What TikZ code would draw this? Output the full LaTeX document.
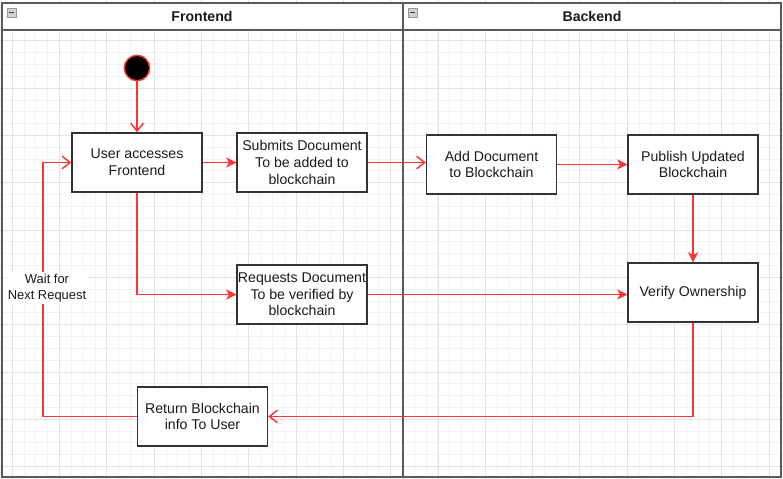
\documentclass[tikz,border=0pt]{standalone}
\usepackage{fontspec}
\setmainfont{Liberation Sans}
\usetikzlibrary{arrows.meta}

\definecolor{flowred}{HTML}{FF3333}
\definecolor{boxline}{HTML}{333333}
\definecolor{laneline}{HTML}{5A5A5A}
\definecolor{gridminor}{HTML}{F3F3F3}
\definecolor{gridmajor}{HTML}{E3E3E3}
\definecolor{txt}{HTML}{1A1A1A}

\tikzset{
  stepbox/.style={rectangle, draw=boxline, line width=1.1pt, fill=white,
    minimum width=97.5pt, minimum height=44.25pt, inner sep=0pt, align=center,
    text=txt, font=\fontsize{10.6}{12.5}\selectfont},
  flow/.style={draw=flowred, line width=1.1pt,
    -{Stealth[length=7.5pt, width=7.5pt, inset=2pt]}},
  openflow/.style={draw=flowred, line width=1.1pt,
    -{Straight Barb[length=6pt, width=9.5pt, line width=1.1pt]}},
  lanetitle/.style={font=\bfseries\fontsize{10.6}{12.5}\selectfont, text=txt},
  minusicon/.style={draw=gray!80, fill=gray!35, line width=0.5pt}
}

\begin{document}
\begin{tikzpicture}[x=0.75pt, y=-0.75pt]
  \useasboundingbox (0,0) rectangle (783,479);
  \fill[white] (0,0) rectangle (783,479);

  % background grid
  \foreach \k in {0,...,66} {
    \pgfmathsetmacro\gx{0.47+11.825*\k}
    \draw[gridminor, line width=0.75pt] (\gx,0) -- (\gx,479);
  }
  \foreach \k in {0,...,40} {
    \pgfmathsetmacro\gy{5.425+11.825*\k}
    \draw[gridminor, line width=0.75pt] (0,\gy) -- (783,\gy);
  }
  \foreach \k in {0,...,16} {
    \pgfmathsetmacro\gx{12.3+47.3*\k}
    \draw[gridmajor, line width=0.75pt] (\gx,0) -- (\gx,479);
  }
  \foreach \k in {0,...,9} {
    \pgfmathsetmacro\gy{40.9+47.3*\k}
    \draw[gridmajor, line width=0.75pt] (0,\gy) -- (783,\gy);
  }

  % swimlanes
  \fill[white] (2,3) rectangle (781,30);
  \draw[laneline, line width=1.5pt] (2,3) rectangle (781,477);
  \draw[laneline, line width=1.5pt] (2,30) -- (781,30);
  \draw[laneline, line width=1.5pt] (403,3) -- (403,477);
  \node[lanetitle] (front) at (202,16.5) {Frontend};
  \node[lanetitle] (back) at (592,16.5) {Backend};
  \foreach \ix in {7,408} {
    \draw[minusicon] (\ix,8) rectangle (\ix+9,17);
    \draw[black!75, line width=1pt] (\ix+2,12.5) -- (\ix+7,12.5);
  }

  % nodes
  \node (start) at (137,68) [circle, fill=black, draw=flowred, line width=1.1pt, minimum size=19pt, inner sep=0pt] {};
  \node (user) at (137,162.5) [stepbox] {User accesses\\Frontend};
  \node (submit) at (302,162.5) [stepbox] {Submits Document\\To be added to\\blockchain};
  \node (request) at (302,294.5) [stepbox] {Requests Document\\To be verified by\\blockchain};
  \node (add) at (491.5,164.5) [stepbox] {Add Document\\to Blockchain};
  \node (publish) at (693,164.5) [stepbox] {Publish Updated\\Blockchain};
  \node (verify) at (693,292.5) [stepbox] {Verify Ownership};
  \node (ret) at (202.5,416.5) [stepbox] {Return Blockchain\\info To User};
  \coordinate (waitx) at (43,162.5);

  % connectors
  \draw[openflow] (start) -- (user);
  \draw[flow] (user) -- (submit);
  \draw[openflow] (submit.east) -- (submit.east -| add.west);
  \draw[flow] (add) -- (publish);
  \draw[flow] (publish) -- (verify);
  \draw[flow] (user.south) |- (request.west);
  \draw[flow] (request.east) -- (request.east -| verify.west);
  \draw[openflow] (verify.south) |- (ret.east);
  \draw[openflow] (ret.west) -| (waitx) -- (user.west);
  \node (wait) at (47,288) [fill=white, inner sep=1.5pt, align=center, text=txt,
    font=\fontsize{9.7}{12.5}\selectfont] {Wait for\\Next Request};
\end{tikzpicture}
\end{document}
